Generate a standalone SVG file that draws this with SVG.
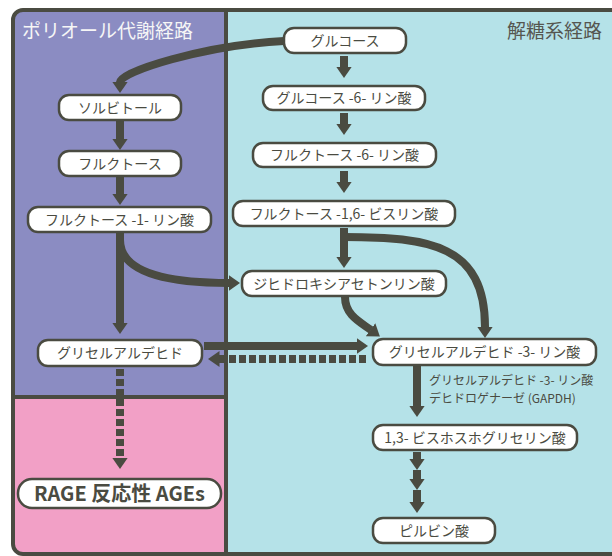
<svg xmlns="http://www.w3.org/2000/svg" width="612" height="556" viewBox="0 0 612 556">
<defs>
<style>
.node rect{fill:#ffffff;stroke:#4a4b41;stroke-width:2.5}
.node text{font-family:"Noto Sans CJK JP","Noto Sans",sans-serif;font-size:14px;fill:#4a4b41;text-anchor:middle}
.conn path{fill:none;stroke:#4a4b41;stroke-width:8;marker-end:url(#ah)}
.conn path.dash{stroke-dasharray:7 3}
.title{font-family:"Noto Sans CJK JP","Noto Sans",sans-serif;font-size:19px}
.lbl{font-family:"Noto Sans CJK JP","Noto Sans",sans-serif;font-size:12px;fill:#4a4b41}
</style>
<marker id="ah" markerUnits="userSpaceOnUse" markerWidth="12" markerHeight="16" viewBox="0 0 12 16" refX="0.5" refY="8" orient="auto">
<path d="M0,0 L11.5,8 L0,16 Z" fill="#4a4b41"/>
</marker>
</defs>
<g id="background">
<rect x="0" y="0" width="612" height="556" fill="#ffffff"/>
<rect x="13" y="10" width="620" height="544" rx="10" fill="#b5e2e8"/>
<path d="M226,10 H23 A10,10 0 0 0 13,20 V397 H226 Z" fill="#8b8cc2"/>
<path d="M226,397 H13 V544 A10,10 0 0 0 23,554 H226 Z" fill="#f2a0c6"/>
<rect x="13" y="10" width="620" height="544" rx="10" fill="none" stroke="#4a4b41" stroke-width="4"/>
<line x1="226" y1="10" x2="226" y2="556" stroke="#4a4b41" stroke-width="4"/>
<line x1="13" y1="397" x2="226" y2="397" stroke="#4a4b41" stroke-width="4"/>
<text class="title" x="22" y="38" fill="#f6f6f6">ポリオール代謝経路</text>
<text class="title" x="602" y="38" fill="#555650" text-anchor="end">解糖系経路</text>
</g>
<g id="connectors" class="conn">
<path d="M344,56 V67"/>
<path d="M344,113 V124"/>
<path d="M344,171 V182"/>
<path d="M344,228 V257"/>
<path d="M344,237 C430,237 485,245 485,327"/>
<path d="M345,297 C345,315 360,322 371,330"/>
<path d="M284,41 C204,45 120,72 120,82"/>
<path d="M120,121 V139"/>
<path d="M120,177 V194"/>
<path d="M120,233 V323"/>
<path d="M120,240 C120,270 160,283 229,283"/>
<path d="M204,346 H357"/>
<path class="dash" d="M366,359 H219"/>
<path class="dash" d="M120,369 V458"/>
<path d="M417,366 V406"/>
<path d="M417,452 V459"/>
<path d="M417,470 V479"/>
<path d="M417,490 V502"/>
</g>
<g id="glucose" class="node"><rect x="284" y="28" width="122" height="25" rx="10"/><text x="345" y="45.5">グルコース</text></g>
<g id="g6p" class="node"><rect x="263" y="86" width="162" height="24" rx="10"/><text x="344" y="103">グルコース -6- リン酸</text></g>
<g id="f6p" class="node"><rect x="253" y="143" width="183" height="24" rx="10"/><text x="344.5" y="160">フルクトース -6- リン酸</text></g>
<g id="f16bp" class="node"><rect x="233" y="201" width="222" height="25" rx="10"/><text x="344" y="218.5">フルクトース -1,6- ビスリン酸</text></g>
<g id="dhap" class="node"><rect x="242" y="271" width="204" height="25" rx="10"/><text x="344" y="288.5">ジヒドロキシアセトンリン酸</text></g>
<g id="g3p" class="node"><rect x="373" y="339" width="223" height="26" rx="10"/><text x="484.5" y="357">グリセルアルデヒド -3- リン酸</text></g>
<g id="bpg" class="node"><rect x="373" y="425" width="204" height="25" rx="10"/><text x="475" y="442.5">1,3- ビスホスホグリセリン酸</text></g>
<g id="pyruvate" class="node"><rect x="373" y="518" width="122" height="25" rx="10"/><text x="434" y="535.5">ピルビン酸</text></g>
<g id="sorbitol" class="node"><rect x="59" y="95" width="122" height="25" rx="10"/><text x="120" y="112.5">ソルビトール</text></g>
<g id="fructose" class="node"><rect x="59" y="151" width="122" height="25" rx="10"/><text x="120" y="168.5">フルクトース</text></g>
<g id="f1p" class="node"><rect x="28" y="207" width="183" height="25" rx="10"/><text x="119.5" y="224.5">フルクトース -1- リン酸</text></g>
<g id="glyceraldehyde" class="node"><rect x="38" y="340" width="164" height="26" rx="10"/><text x="120" y="358">グリセルアルデヒド</text></g>
<g id="rage" class="node"><rect x="18" y="479" width="203" height="29" rx="14"/><text x="119.5" y="500.5" style="font-size:20px;font-weight:bold">RAGE 反応性 AGEs</text></g>
<g id="gapdh-label">
<text class="lbl" x="429" y="385">グリセルアルデヒド -3- リン酸</text>
<text class="lbl" x="429" y="403">デヒドロゲナーゼ (GAPDH)</text>
</g>
</svg>
